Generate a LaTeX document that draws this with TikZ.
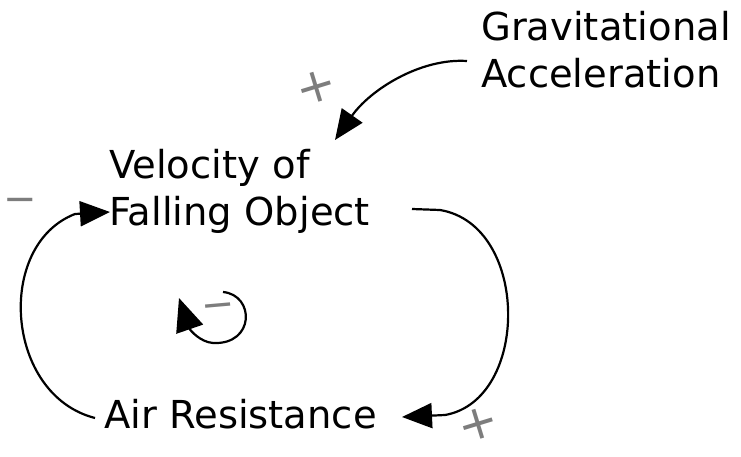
\documentclass[tikz,border=0pt]{standalone}
\usepackage{fontspec}
\setmainfont{DejaVu Sans}
\usetikzlibrary{arrows.meta}
\definecolor{signcolor}{RGB}{125,125,125}

\begin{document}
\begin{tikzpicture}[
    x=1pt, y=-1pt,
    var/.style={anchor=north west, inner sep=0pt, align=left, font=\fontsize{38.5}{47}\selectfont},
    sign/.style={inner sep=0pt, text=signcolor, font=\fontsize{48}{48}\selectfont},
    minus/.style={inner sep=0pt, text=signcolor, font=\fontsize{40}{40}\selectfont},
    link/.style={line width=2.2pt, -{Triangle[length=30pt, width=25pt]}},
    looparrow/.style={line width=2.2pt, -{Triangle[length=33pt, width=28pt]}}
]
    \useasboundingbox (0,0) rectangle (741,457);

    % variables
    \node[var] (grav) at (481,11) {Gravitational\\Acceleration};
    \node[var] (vel) at (109,149) {Velocity of\\Falling Object};
    \node[var] (air) at (104,399) {Air Resistance};

    % polarity signs
    \node[sign, rotate=17] (pgrav) at (316,87) {+};
    \node[sign, rotate=17] (pair) at (478,424) {+};
    \node[minus] (pvel) at (20,205) {−};
    \node[minus, rotate=5] (loopsign) at (219,311) {−};

    % links
    \draw[link] ([shift={(-14,50)}]grav.north west)
        .. controls +(-47,-3) and +(35,-50) .. ([shift={(226,-9)}]vel.north west);
    \draw[link] ([shift={(303,60)}]vel.north west) -- ++(28,1)
        .. controls +(90,15) and ([shift={(426,1)}]air.north west)
        .. ([shift={(341,16)}]air.north west) -- ([shift={(298,18)}]air.north west);
    \draw[link] ([shift={(-9,19)}]air.north west)
        .. controls +(-90,-23) and +(-80,31) .. ([shift={(-34,65)}]vel.north west)
        -- ([shift={(1,63)}]vel.north west);

    % loop marker
    \draw[looparrow] ([shift={(4,-19)}]loopsign.center)
        .. controls ([shift={(36,-16)}]loopsign.center) and ([shift={(36,34)}]loopsign.center)
        .. ([shift={(-6,32)}]loopsign.center)
        .. controls ([shift={(-19,31)}]loopsign.center) and ([shift={(-29,19)}]loopsign.center)
        .. ([shift={(-40,-13)}]loopsign.center);
\end{tikzpicture}
\end{document}
